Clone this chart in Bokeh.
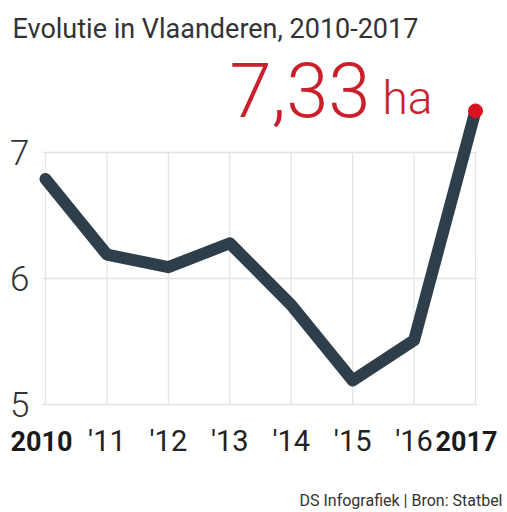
from bokeh.plotting import figure
from bokeh.models import Range1d, ColumnDataSource
from bokeh.core.properties import value
from bokeh.embed import file_html
from bokeh.resources import INLINE

# ---- data ----
years = [2010, 2011, 2012, 2013, 2014, 2015, 2016, 2017]
hectares = [6.79, 6.19, 6.09, 6.28, 5.79, 5.19, 5.51, 7.33]
tick_labels = ["2010", "'11", "'12", "'13", "'14", "'15", "'16", "2017"]
y_ticks = [5, 6, 7]
y_tick_labels = ["5", "6", "7"]
title_text = "Evolutie in Vlaanderen, 2010-2017"
highlight_value = "7,33"
highlight_unit = "ha"
source_text = "DS Infografiek | Bron: Statbel"

# ---- layout (pixels) ----
W, H = 507, 512
PX_YEAR = (475 - 45) / 7.0
PX_UNIT = 126.0
x0 = years[0] - 45 / PX_YEAR
x1 = years[-1] + (W - 475) / PX_YEAR
y0 = 5 - (H - 404) / PX_UNIT
y1 = 7 + 152 / PX_UNIT
BASE_FIX = 0.34  # alphabetic baseline correction (em)

def dx(px):
    return x0 + px / PX_YEAR

def dy(py):
    return y1 - py / PX_UNIT

def base(py, size):
    return dy(py - BASE_FIX * size)

p = figure(width=W, height=H, output_backend="svg", toolbar_location=None,
           x_range=Range1d(x0, x1), y_range=Range1d(y0, y1),
           min_border=0, x_axis_location=None, y_axis_location=None)
p.outline_line_color = None
p.grid.visible = False
p.background_fill_color = "white"
p.border_fill_color = "white"

THIN = value("'Roboto Light', Roboto")
REG = value("Roboto")

grid_col = "#e3e3e3"
# horizontal grid
p.segment(x0=[dx(42)] * len(y_ticks), x1=[dx(477)] * len(y_ticks), y0=y_ticks, y1=y_ticks,
          line_color=grid_col, line_width=1.6)
# vertical grid
p.segment(x0=years, x1=years, y0=[min(y_ticks)] * len(years), y1=[max(y_ticks)] * len(years),
          line_color=grid_col, line_width=1.2)

# main line
p.line(years, hectares, line_color="#2e3e4a", line_width=12,
       line_join="round", line_cap="round")
p.scatter([years[-1]], [hectares[-1]], size=14, fill_color="#d8141f", line_color="#d8141f")

# y tick labels
p.text(x=[dx(29)] * len(y_ticks), y=y_ticks, text=y_tick_labels, text_align="right",
       text_baseline="middle", text_font=THIN, text_font_size="35px", text_color="#333333")

# x tick labels
mid = ColumnDataSource(dict(x=years[1:-1], t=tick_labels[1:-1]))
p.text(x="x", y=base(450, 29), text="t", source=mid, text_align="center",
       text_baseline="alphabetic", text_font=REG, text_font_size="29px", text_color="#222222")
p.text(x=[dx(10)], y=[base(450, 27)], text=[tick_labels[0]], text_align="left",
       text_baseline="alphabetic", text_font=REG, text_font_style="bold",
       text_font_size="27px", text_color="#1a1a1a")
p.text(x=[dx(497)], y=[base(450, 27)], text=[tick_labels[-1]], text_align="right",
       text_baseline="alphabetic", text_font=REG, text_font_style="bold",
       text_font_size="27px", text_color="#1a1a1a")

# title
p.text(x=[dx(12)], y=[base(38, 27)], text=[title_text], text_align="left",
       text_baseline="alphabetic", text_font=REG, text_font_size="27px", text_color="#333333")

# highlight annotation
p.text(x=[dx(370)], y=[base(115, 76)], text=[highlight_value], text_align="right",
       text_baseline="alphabetic", text_font=THIN, text_font_size="76px", text_color="#c9202c")
p.text(x=[dx(382)], y=[base(113, 46)], text=[highlight_unit], text_align="left",
       text_baseline="alphabetic", text_font=THIN, text_font_size="46px", text_color="#c9202c")

# source
p.text(x=[dx(502)], y=[base(505, 16)], text=[source_text], text_align="right",
       text_baseline="alphabetic", text_font=REG, text_font_size="16px", text_color="#333333")

open("out.html", "w").write(file_html(p, INLINE))
